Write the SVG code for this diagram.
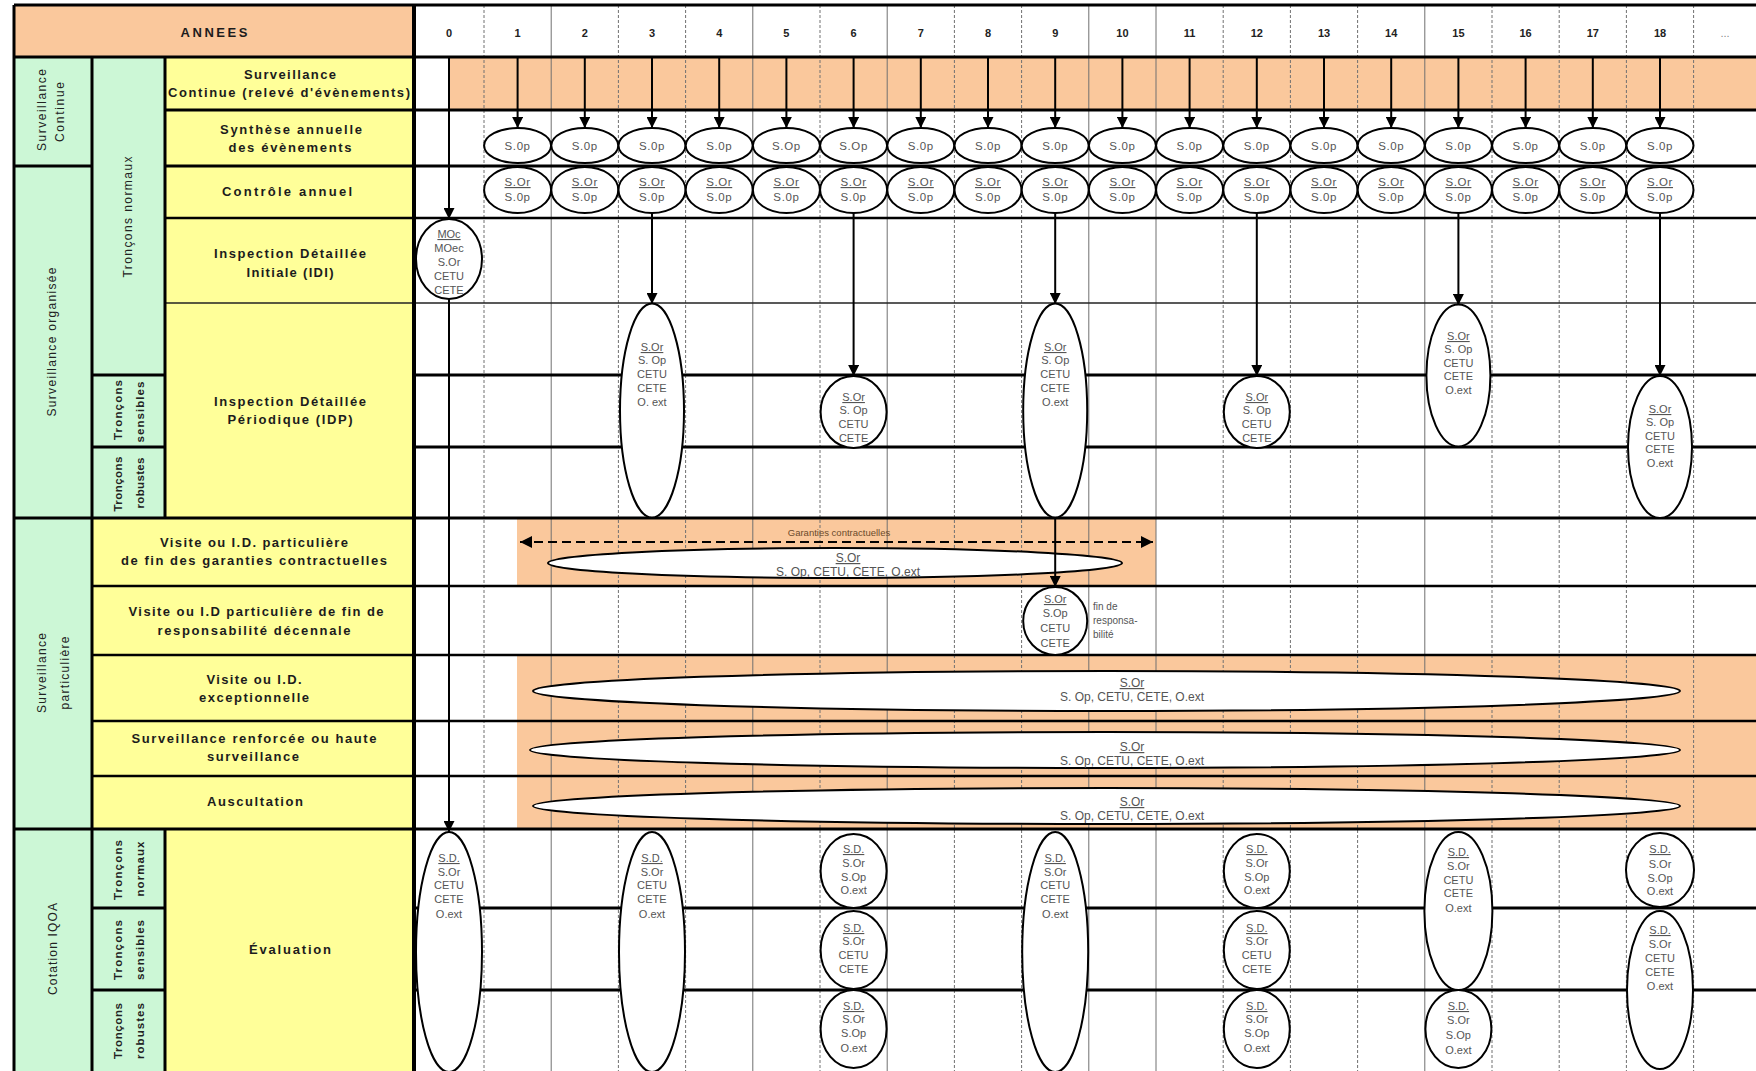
<svg xmlns="http://www.w3.org/2000/svg" width="1756" height="1071" viewBox="0 0 1756 1071">
<defs>
<style>
text{font-family:"Liberation Sans",Arial,Helvetica,sans-serif}
.lb{font-weight:bold;font-size:13px;fill:#1c1c1c;text-anchor:middle}
.rt{font-size:12px;fill:#222;text-anchor:middle}
.rb{font-size:11.5px;font-weight:bold;fill:#222;text-anchor:middle}
.yr{font-size:11px;font-weight:bold;fill:#222;text-anchor:middle}
.t{font-size:11px;fill:#555;text-anchor:middle}
.ts{font-size:11.5px;fill:#555;text-anchor:middle;letter-spacing:0.6px}
.tl{font-size:12px;fill:#555;text-anchor:middle}
.tn{font-size:10px;fill:#555}
.u{text-decoration:underline}
.el{fill:#fff;stroke:#000;stroke-width:2}
.or{fill:#FAC89C}
.gr{fill:#CCF7D6}
.ye{fill:#FFFF99}
.s3{stroke:#000;stroke-width:3}
.s2{stroke:#000;stroke-width:2.5}
.s1{stroke:#222;stroke-width:1.6}
.gs{stroke:#707070;stroke-width:1}
.gd{stroke:#707070;stroke-width:1;stroke-dasharray:3 2}
.ar{stroke:#000;stroke-width:2;fill:none;marker-end:url(#ah)}
</style>
<marker id="ah" markerUnits="userSpaceOnUse" markerWidth="11" markerHeight="11" refX="11" refY="5.5" orient="auto"><path d="M0,0 L11,5.5 L0,11 z" fill="#000"/></marker>
<marker id="ah2" markerUnits="userSpaceOnUse" markerWidth="12" markerHeight="12" refX="12" refY="6" orient="auto-start-reverse"><path d="M0,0 L12,6 L0,12 z" fill="#000"/></marker>
<clipPath id="cIDI"><ellipse cx="449" cy="259" rx="32" ry="39"/></clipPath>
<clipPath id="c6"><ellipse cx="853.6" cy="412" rx="32" ry="35"/></clipPath>
<clipPath id="c12"><ellipse cx="1256.8" cy="412" rx="32" ry="35"/></clipPath>
<clipPath id="cG"><ellipse cx="835" cy="563" rx="286" ry="14"/></clipPath>
</defs>
<rect x="0" y="0" width="1756" height="1071" fill="#fff"/>

<g id="label-area">
<rect class="or" x="14" y="5" width="400" height="52"/>
<rect class="gr" x="14" y="57" width="78" height="1014"/>
<rect class="gr" x="92" y="57" width="73" height="461"/>
<rect class="gr" x="92" y="829" width="73" height="242"/>
<rect class="ye" x="165" y="57" width="249" height="461"/>
<rect class="ye" x="92" y="518" width="322" height="311"/>
<rect class="ye" x="165" y="829" width="249" height="242"/>
</g>

<g id="orange-bands">
<rect class="or" x="449" y="57" width="1307" height="53"/>
<rect class="or" x="517" y="518" width="639" height="68"/>
<rect class="or" x="517" y="655" width="1239" height="174"/>
</g>

<g id="grid">
<line class="gd" x1="484" y1="5" x2="484" y2="1071"/>
<line class="gs" x1="551.2" y1="5" x2="551.2" y2="1071"/>
<line class="gd" x1="618.4" y1="5" x2="618.4" y2="1071"/>
<line class="gd" x1="685.6" y1="5" x2="685.6" y2="1071"/>
<line class="gs" x1="752.8" y1="5" x2="752.8" y2="1071"/>
<line class="gd" x1="820" y1="5" x2="820" y2="1071"/>
<line class="gs" x1="887.2" y1="5" x2="887.2" y2="1071"/>
<line class="gd" x1="954.4" y1="5" x2="954.4" y2="1071"/>
<line class="gd" x1="1021.6" y1="5" x2="1021.6" y2="1071"/>
<line class="gs" x1="1088.8" y1="5" x2="1088.8" y2="1071"/>
<line class="gs" x1="1156" y1="5" x2="1156" y2="1071"/>
<line class="gd" x1="1223.2" y1="5" x2="1223.2" y2="1071"/>
<line class="gd" x1="1290.4" y1="5" x2="1290.4" y2="1071"/>
<line class="gd" x1="1357.6" y1="5" x2="1357.6" y2="1071"/>
<line class="gs" x1="1424.8" y1="5" x2="1424.8" y2="1071"/>
<line class="gd" x1="1492" y1="5" x2="1492" y2="1071"/>
<line class="gd" x1="1559.2" y1="5" x2="1559.2" y2="1071"/>
<line class="gd" x1="1626.4" y1="5" x2="1626.4" y2="1071"/>
<line class="gd" x1="1693.6" y1="5" x2="1693.6" y2="1071"/>
</g>

<g id="rules">
<line class="s3" x1="14" y1="5" x2="1756" y2="5"/>
<line class="s3" x1="14" y1="57" x2="1756" y2="57"/>
<line class="s3" x1="165" y1="110" x2="1756" y2="110"/>
<line class="s3" x1="14" y1="166" x2="92" y2="166"/>
<line class="s3" x1="165" y1="166" x2="1756" y2="166"/>
<line class="s2" x1="165" y1="218" x2="1756" y2="218"/>
<line class="s1" x1="165" y1="303" x2="1756" y2="303"/>
<line class="s3" x1="92" y1="375" x2="165" y2="375"/>
<line class="s3" x1="414" y1="375" x2="1756" y2="375"/>
<line class="s3" x1="92" y1="447" x2="165" y2="447"/>
<line class="s3" x1="414" y1="447" x2="1756" y2="447"/>
<line class="s3" x1="14" y1="518" x2="1756" y2="518"/>
<line class="s2" x1="92" y1="586" x2="1756" y2="586"/>
<line class="s2" x1="92" y1="655" x2="1756" y2="655"/>
<line class="s2" x1="92" y1="721" x2="1756" y2="721"/>
<line class="s2" x1="92" y1="776" x2="1756" y2="776"/>
<line class="s3" x1="14" y1="829" x2="1756" y2="829"/>
<line class="s3" x1="92" y1="908" x2="165" y2="908"/>
<line class="s3" x1="414" y1="908" x2="1756" y2="908"/>
<line class="s3" x1="92" y1="990" x2="165" y2="990"/>
<line class="s3" x1="414" y1="990" x2="1756" y2="990"/>
<line class="s3" x1="14" y1="5" x2="14" y2="1071"/>
<line class="s3" x1="92" y1="57" x2="92" y2="1071"/>
<line class="s3" x1="165" y1="57" x2="165" y2="518"/>
<line class="s3" x1="165" y1="829" x2="165" y2="1071"/>
<line stroke="#000" stroke-width="4" x1="414" y1="5" x2="414" y2="1071"/>
</g>

<g id="labels">
<text class="lb" x="214" y="37" textLength="67" lengthAdjust="spacing">ANNEES</text>
<text class="lb" x="290" y="79" textLength="92" lengthAdjust="spacing">Surveillance</text>
<text class="lb" x="289" y="97" textLength="242" lengthAdjust="spacing">Continue (relevé d'évènements)</text>
<text class="lb" x="291" y="134" textLength="142" lengthAdjust="spacing">Synthèse annuelle</text>
<text class="lb" x="290" y="152" textLength="123" lengthAdjust="spacing">des évènements</text>
<text class="lb" x="287" y="196" textLength="130" lengthAdjust="spacing">Contrôle annuel</text>
<text class="lb" x="290" y="258" textLength="152" lengthAdjust="spacing">Inspection Détaillée</text>
<text class="lb" x="290" y="277" textLength="87" lengthAdjust="spacing">Initiale (IDI)</text>
<text class="lb" x="290" y="406" textLength="152" lengthAdjust="spacing">Inspection Détaillée</text>
<text class="lb" x="290" y="424" textLength="125" lengthAdjust="spacing">Périodique (IDP)</text>
<text class="lb" x="254" y="547" textLength="188" lengthAdjust="spacing">Visite ou I.D. particulière</text>
<text class="lb" x="254" y="565" textLength="266" lengthAdjust="spacing">de fin des garanties contractuelles</text>
<text class="lb" x="256" y="616" textLength="255" lengthAdjust="spacing">Visite ou I.D particulière de fin de</text>
<text class="lb" x="254" y="635" textLength="193" lengthAdjust="spacing">responsabilité décennale</text>
<text class="lb" x="254" y="684" textLength="95" lengthAdjust="spacing">Visite ou I.D.</text>
<text class="lb" x="254" y="702" textLength="110" lengthAdjust="spacing">exceptionnelle</text>
<text class="lb" x="254" y="743" textLength="245" lengthAdjust="spacing">Surveillance renforcée ou haute</text>
<text class="lb" x="253" y="761" textLength="92" lengthAdjust="spacing">surveillance</text>
<text class="lb" x="255" y="806" textLength="96" lengthAdjust="spacing">Auscultation</text>
<text class="lb" x="290" y="954" textLength="82" lengthAdjust="spacing">Évaluation</text>
<text class="rt" transform="translate(46,110) rotate(-90)" textLength="82" lengthAdjust="spacing">Surveillance</text>
<text class="rt" transform="translate(64,112) rotate(-90)" textLength="60" lengthAdjust="spacing">Continue</text>
<text class="rt" transform="translate(56,342) rotate(-90)" textLength="149" lengthAdjust="spacing">Surveillance organisée</text>
<text class="rt" transform="translate(46,673) rotate(-90)" textLength="80" lengthAdjust="spacing">Surveillance</text>
<text class="rt" transform="translate(69,673) rotate(-90)" textLength="73" lengthAdjust="spacing">particulière</text>
<text class="rt" transform="translate(57,949) rotate(-90)" textLength="92" lengthAdjust="spacing">Cotation IQOA</text>
<text class="rt" transform="translate(132,217) rotate(-90)" textLength="121" lengthAdjust="spacing">Tronçons normaux</text>
<text class="rb" transform="translate(122,410) rotate(-90)" textLength="60" lengthAdjust="spacing">Tronçons</text>
<text class="rb" transform="translate(144,412) rotate(-90)" textLength="61" lengthAdjust="spacing">sensibles</text>
<text class="rb" transform="translate(122,484) rotate(-90)" textLength="55" lengthAdjust="spacing">Tronçons</text>
<text class="rb" transform="translate(144,483) rotate(-90)" textLength="51" lengthAdjust="spacing">robustes</text>
<text class="rb" transform="translate(122,870) rotate(-90)" textLength="60" lengthAdjust="spacing">Tronçons</text>
<text class="rb" transform="translate(144,869) rotate(-90)" textLength="55" lengthAdjust="spacing">normaux</text>
<text class="rb" transform="translate(122,950) rotate(-90)" textLength="60" lengthAdjust="spacing">Tronçons</text>
<text class="rb" transform="translate(144,950) rotate(-90)" textLength="60" lengthAdjust="spacing">sensibles</text>
<text class="rb" transform="translate(122,1031) rotate(-90)" textLength="56" lengthAdjust="spacing">Tronçons</text>
<text class="rb" transform="translate(144,1031) rotate(-90)" textLength="56" lengthAdjust="spacing">robustes</text>
</g>

<g id="years">
<text class="yr" x="449" y="37">0</text>
<text class="yr" x="517.6" y="37">1</text>
<text class="yr" x="584.8" y="37">2</text>
<text class="yr" x="652" y="37">3</text>
<text class="yr" x="719.2" y="37">4</text>
<text class="yr" x="786.4" y="37">5</text>
<text class="yr" x="853.6" y="37">6</text>
<text class="yr" x="920.8" y="37">7</text>
<text class="yr" x="988" y="37">8</text>
<text class="yr" x="1055.2" y="37">9</text>
<text class="yr" x="1122.4" y="37">10</text>
<text class="yr" x="1189.6" y="37">11</text>
<text class="yr" x="1256.8" y="37">12</text>
<text class="yr" x="1324" y="37">13</text>
<text class="yr" x="1391.2" y="37">14</text>
<text class="yr" x="1458.4" y="37">15</text>
<text class="yr" x="1525.6" y="37">16</text>
<text class="yr" x="1592.8" y="37">17</text>
<text class="yr" x="1660" y="37">18</text>
<text class="yr" x="1725" y="37" style="fill:#888;font-weight:normal">...</text>
</g>

<g id="synthese">
<g id="syn-1"><ellipse class="el" cx="517.6" cy="145.5" rx="33.5" ry="17.5"/><text class="ts" x="517.6" y="149.5">S.0p</text></g>
<g id="syn-2"><ellipse class="el" cx="584.8" cy="145.5" rx="33.5" ry="17.5"/><text class="ts" x="584.8" y="149.5">S.0p</text></g>
<g id="syn-3"><ellipse class="el" cx="652" cy="145.5" rx="33.5" ry="17.5"/><text class="ts" x="652" y="149.5">S.0p</text></g>
<g id="syn-4"><ellipse class="el" cx="719.2" cy="145.5" rx="33.5" ry="17.5"/><text class="ts" x="719.2" y="149.5">S.0p</text></g>
<g id="syn-5"><ellipse class="el" cx="786.4" cy="145.5" rx="33.5" ry="17.5"/><text class="ts" x="786.4" y="149.5">S.Op</text></g>
<g id="syn-6"><ellipse class="el" cx="853.6" cy="145.5" rx="33.5" ry="17.5"/><text class="ts" x="853.6" y="149.5">S.Op</text></g>
<g id="syn-7"><ellipse class="el" cx="920.8" cy="145.5" rx="33.5" ry="17.5"/><text class="ts" x="920.8" y="149.5">S.0p</text></g>
<g id="syn-8"><ellipse class="el" cx="988" cy="145.5" rx="33.5" ry="17.5"/><text class="ts" x="988" y="149.5">S.0p</text></g>
<g id="syn-9"><ellipse class="el" cx="1055.2" cy="145.5" rx="33.5" ry="17.5"/><text class="ts" x="1055.2" y="149.5">S.0p</text></g>
<g id="syn-10"><ellipse class="el" cx="1122.4" cy="145.5" rx="33.5" ry="17.5"/><text class="ts" x="1122.4" y="149.5">S.0p</text></g>
<g id="syn-11"><ellipse class="el" cx="1189.6" cy="145.5" rx="33.5" ry="17.5"/><text class="ts" x="1189.6" y="149.5">S.0p</text></g>
<g id="syn-12"><ellipse class="el" cx="1256.8" cy="145.5" rx="33.5" ry="17.5"/><text class="ts" x="1256.8" y="149.5">S.0p</text></g>
<g id="syn-13"><ellipse class="el" cx="1324" cy="145.5" rx="33.5" ry="17.5"/><text class="ts" x="1324" y="149.5">S.0p</text></g>
<g id="syn-14"><ellipse class="el" cx="1391.2" cy="145.5" rx="33.5" ry="17.5"/><text class="ts" x="1391.2" y="149.5">S.0p</text></g>
<g id="syn-15"><ellipse class="el" cx="1458.4" cy="145.5" rx="33.5" ry="17.5"/><text class="ts" x="1458.4" y="149.5">S.0p</text></g>
<g id="syn-16"><ellipse class="el" cx="1525.6" cy="145.5" rx="33.5" ry="17.5"/><text class="ts" x="1525.6" y="149.5">S.0p</text></g>
<g id="syn-17"><ellipse class="el" cx="1592.8" cy="145.5" rx="33.5" ry="17.5"/><text class="ts" x="1592.8" y="149.5">S.0p</text></g>
<g id="syn-18"><ellipse class="el" cx="1660" cy="145.5" rx="33.5" ry="17.5"/><text class="ts" x="1660" y="149.5">S.0p</text></g>
</g>

<g id="controle">
<g id="ctl-1"><ellipse class="el" cx="517.6" cy="190" rx="33.5" ry="23"/><text class="ts u" x="517.6" y="186">S.Or</text><text class="ts" x="517.6" y="201">S.0p</text></g>
<g id="ctl-2"><ellipse class="el" cx="584.8" cy="190" rx="33.5" ry="23"/><text class="ts u" x="584.8" y="186">S.Or</text><text class="ts" x="584.8" y="201">S.0p</text></g>
<g id="ctl-3"><ellipse class="el" cx="652" cy="190" rx="33.5" ry="23"/><text class="ts u" x="652" y="186">S.Or</text><text class="ts" x="652" y="201">S.0p</text></g>
<g id="ctl-4"><ellipse class="el" cx="719.2" cy="190" rx="33.5" ry="23"/><text class="ts u" x="719.2" y="186">S.Or</text><text class="ts" x="719.2" y="201">S.0p</text></g>
<g id="ctl-5"><ellipse class="el" cx="786.4" cy="190" rx="33.5" ry="23"/><text class="ts u" x="786.4" y="186">S.Or</text><text class="ts" x="786.4" y="201">S.0p</text></g>
<g id="ctl-6"><ellipse class="el" cx="853.6" cy="190" rx="33.5" ry="23"/><text class="ts u" x="853.6" y="186">S.Or</text><text class="ts" x="853.6" y="201">S.0p</text></g>
<g id="ctl-7"><ellipse class="el" cx="920.8" cy="190" rx="33.5" ry="23"/><text class="ts u" x="920.8" y="186">S.Or</text><text class="ts" x="920.8" y="201">S.0p</text></g>
<g id="ctl-8"><ellipse class="el" cx="988" cy="190" rx="33.5" ry="23"/><text class="ts u" x="988" y="186">S.Or</text><text class="ts" x="988" y="201">S.0p</text></g>
<g id="ctl-9"><ellipse class="el" cx="1055.2" cy="190" rx="33.5" ry="23"/><text class="ts u" x="1055.2" y="186">S.Or</text><text class="ts" x="1055.2" y="201">S.0p</text></g>
<g id="ctl-10"><ellipse class="el" cx="1122.4" cy="190" rx="33.5" ry="23"/><text class="ts u" x="1122.4" y="186">S.Or</text><text class="ts" x="1122.4" y="201">S.0p</text></g>
<g id="ctl-11"><ellipse class="el" cx="1189.6" cy="190" rx="33.5" ry="23"/><text class="ts u" x="1189.6" y="186">S.Or</text><text class="ts" x="1189.6" y="201">S.0p</text></g>
<g id="ctl-12"><ellipse class="el" cx="1256.8" cy="190" rx="33.5" ry="23"/><text class="ts u" x="1256.8" y="186">S.Or</text><text class="ts" x="1256.8" y="201">S.0p</text></g>
<g id="ctl-13"><ellipse class="el" cx="1324" cy="190" rx="33.5" ry="23"/><text class="ts u" x="1324" y="186">S.Or</text><text class="ts" x="1324" y="201">S.0p</text></g>
<g id="ctl-14"><ellipse class="el" cx="1391.2" cy="190" rx="33.5" ry="23"/><text class="ts u" x="1391.2" y="186">S.Or</text><text class="ts" x="1391.2" y="201">S.0p</text></g>
<g id="ctl-15"><ellipse class="el" cx="1458.4" cy="190" rx="33.5" ry="23"/><text class="ts u" x="1458.4" y="186">S.Or</text><text class="ts" x="1458.4" y="201">S.0p</text></g>
<g id="ctl-16"><ellipse class="el" cx="1525.6" cy="190" rx="33.5" ry="23"/><text class="ts u" x="1525.6" y="186">S.Or</text><text class="ts" x="1525.6" y="201">S.0p</text></g>
<g id="ctl-17"><ellipse class="el" cx="1592.8" cy="190" rx="33.5" ry="23"/><text class="ts u" x="1592.8" y="186">S.Or</text><text class="ts" x="1592.8" y="201">S.0p</text></g>
<g id="ctl-18"><ellipse class="el" cx="1660" cy="190" rx="33.5" ry="23"/><text class="ts u" x="1660" y="186">S.Or</text><text class="ts" x="1660" y="201">S.0p</text></g>
</g>

<g id="idi-0"><ellipse class="el" cx="449" cy="259" rx="33" ry="40"/>
<g clip-path="url(#cIDI)"><text class="t u" x="449" y="238">MOc</text><text class="t" x="449" y="252">MOec</text><text class="t" x="449" y="266">S.Or</text><text class="t" x="449" y="280">CETU</text><text class="t" x="449" y="294">CETE</text></g></g>

<g id="idp-3"><ellipse class="el" cx="652" cy="410.5" rx="32" ry="107"/><text class="t u" x="652" y="351">S.Or</text><text class="t" x="652" y="364">S. Op</text><text class="t" x="652" y="378">CETU</text><text class="t" x="652" y="392">CETE</text><text class="t" x="652" y="406">O. ext</text></g>
<g id="idp-6"><ellipse class="el" cx="853.6" cy="412" rx="33" ry="36"/><g clip-path="url(#c6)"><text class="t u" x="853.6" y="401">S.Or</text><text class="t" x="853.6" y="414">S. Op</text><text class="t" x="853.6" y="428">CETU</text><text class="t" x="853.6" y="442">CETE</text></g></g>
<g id="idp-9"><ellipse class="el" cx="1055.2" cy="410.5" rx="32" ry="107"/><text class="t u" x="1055.2" y="351">S.Or</text><text class="t" x="1055.2" y="364">S. Op</text><text class="t" x="1055.2" y="378">CETU</text><text class="t" x="1055.2" y="392">CETE</text><text class="t" x="1055.2" y="406">O.ext</text></g>
<g id="idp-12"><ellipse class="el" cx="1256.8" cy="412" rx="33" ry="36"/><g clip-path="url(#c12)"><text class="t u" x="1256.8" y="401">S.Or</text><text class="t" x="1256.8" y="414">S. Op</text><text class="t" x="1256.8" y="428">CETU</text><text class="t" x="1256.8" y="442">CETE</text></g></g>
<g id="idp-15"><ellipse class="el" cx="1458.4" cy="375.5" rx="32" ry="71"/><text class="t u" x="1458.4" y="340">S.Or</text><text class="t" x="1458.4" y="353">S. Op</text><text class="t" x="1458.4" y="367">CETU</text><text class="t" x="1458.4" y="380">CETE</text><text class="t" x="1458.4" y="394">O.ext</text></g>
<g id="idp-18"><ellipse class="el" cx="1660" cy="447" rx="32" ry="71"/><text class="t u" x="1660" y="413">S.Or</text><text class="t" x="1660" y="426">S. Op</text><text class="t" x="1660" y="440">CETU</text><text class="t" x="1660" y="453">CETE</text><text class="t" x="1660" y="467">O.ext</text></g>

<g id="garanties">
<text x="839" y="536" style="font-size:9.5px;fill:#6b4a2b;text-anchor:middle">Garanties contractuelles</text>
<line x1="520" y1="542" x2="1153" y2="542" stroke="#000" stroke-width="2" stroke-dasharray="9 5" marker-start="url(#ah2)" marker-end="url(#ah2)"/>
<ellipse class="el" cx="835" cy="563" rx="287" ry="15"/>
<g clip-path="url(#cG)"><text class="tl u" x="848" y="562">S.Or</text><text class="tl" x="848" y="576">S. Op, CETU, CETE, O.ext</text></g>
</g>

<g id="responsabilite"><ellipse class="el" cx="1055.2" cy="621" rx="32" ry="34"/><text class="t u" x="1055.2" y="603">S.Or</text><text class="t" x="1055.2" y="617">S.Op</text><text class="t" x="1055.2" y="632">CETU</text><text class="t" x="1055.2" y="647">CETE</text>
<text class="tn" x="1093" y="610">fin de</text><text class="tn" x="1093" y="624">responsa-</text><text class="tn" x="1093" y="638">bilité</text></g>

<g id="exceptionnelle"><ellipse class="el" cx="1106.5" cy="691" rx="573.5" ry="20"/><text class="tl u" x="1132" y="687">S.Or</text><text class="tl" x="1132" y="701">S. Op, CETU, CETE, O.ext</text></g>
<g id="renforcee"><ellipse class="el" cx="1105" cy="750" rx="575" ry="18"/><text class="tl u" x="1132" y="751">S.Or</text><text class="tl" x="1132" y="765">S. Op, CETU, CETE, O.ext</text></g>
<g id="auscultation"><ellipse class="el" cx="1106.5" cy="806" rx="573.5" ry="18"/><text class="tl u" x="1132" y="806">S.Or</text><text class="tl" x="1132" y="820">S. Op, CETU, CETE, O.ext</text></g>

<g id="eval-0"><ellipse class="el" cx="449" cy="952" rx="33" ry="120"/><text class="t u" x="449" y="862">S.D.</text><text class="t" x="449" y="876">S.Or</text><text class="t" x="449" y="889">CETU</text><text class="t" x="449" y="903">CETE</text><text class="t" x="449" y="918">O.ext</text></g>
<g id="eval-3"><ellipse class="el" cx="652" cy="952" rx="33" ry="120"/><text class="t u" x="652" y="862">S.D.</text><text class="t" x="652" y="876">S.Or</text><text class="t" x="652" y="889">CETU</text><text class="t" x="652" y="903">CETE</text><text class="t" x="652" y="918">O.ext</text></g>
<g id="eval-9"><ellipse class="el" cx="1055.2" cy="952" rx="33" ry="120"/><text class="t u" x="1055.2" y="862">S.D.</text><text class="t" x="1055.2" y="876">S.Or</text><text class="t" x="1055.2" y="889">CETU</text><text class="t" x="1055.2" y="903">CETE</text><text class="t" x="1055.2" y="918">O.ext</text></g>

<g id="eval-6n"><ellipse class="el" cx="853.6" cy="871" rx="33" ry="37"/><text class="t u" x="853.6" y="853">S.D.</text><text class="t" x="853.6" y="867">S.Or</text><text class="t" x="853.6" y="881">S.Op</text><text class="t" x="853.6" y="894">O.ext</text></g>
<g id="eval-6s"><ellipse class="el" cx="853.6" cy="950" rx="33" ry="39"/><text class="t u" x="853.6" y="932">S.D.</text><text class="t" x="853.6" y="945">S.Or</text><text class="t" x="853.6" y="959">CETU</text><text class="t" x="853.6" y="973">CETE</text></g>
<g id="eval-6r"><ellipse class="el" cx="853.6" cy="1029" rx="33" ry="39"/><text class="t u" x="853.6" y="1010">S.D.</text><text class="t" x="853.6" y="1023">S.Or</text><text class="t" x="853.6" y="1037">S.Op</text><text class="t" x="853.6" y="1052">O.ext</text></g>

<g id="eval-12n"><ellipse class="el" cx="1256.8" cy="871" rx="33" ry="37"/><text class="t u" x="1256.8" y="853">S.D.</text><text class="t" x="1256.8" y="867">S.Or</text><text class="t" x="1256.8" y="881">S.Op</text><text class="t" x="1256.8" y="894">O.ext</text></g>
<g id="eval-12s"><ellipse class="el" cx="1256.8" cy="950" rx="33" ry="39"/><text class="t u" x="1256.8" y="932">S.D.</text><text class="t" x="1256.8" y="945">S.Or</text><text class="t" x="1256.8" y="959">CETU</text><text class="t" x="1256.8" y="973">CETE</text></g>
<g id="eval-12r"><ellipse class="el" cx="1256.8" cy="1029" rx="33" ry="39"/><text class="t u" x="1256.8" y="1010">S.D.</text><text class="t" x="1256.8" y="1023">S.Or</text><text class="t" x="1256.8" y="1037">S.Op</text><text class="t" x="1256.8" y="1052">O.ext</text></g>

<g id="eval-15ns"><ellipse class="el" cx="1458.4" cy="911" rx="34" ry="79"/><text class="t u" x="1458.4" y="856">S.D.</text><text class="t" x="1458.4" y="870">S.Or</text><text class="t" x="1458.4" y="884">CETU</text><text class="t" x="1458.4" y="897">CETE</text><text class="t" x="1458.4" y="912">O.ext</text></g>
<g id="eval-15r"><ellipse class="el" cx="1458.4" cy="1029" rx="33" ry="39"/><text class="t u" x="1458.4" y="1010">S.D.</text><text class="t" x="1458.4" y="1024">S.Or</text><text class="t" x="1458.4" y="1039">S.Op</text><text class="t" x="1458.4" y="1054">O.ext</text></g>

<g id="eval-18n"><ellipse class="el" cx="1660" cy="870" rx="34" ry="37"/><text class="t u" x="1660" y="853">S.D.</text><text class="t" x="1660" y="868">S.Or</text><text class="t" x="1660" y="882">S.Op</text><text class="t" x="1660" y="895">O.ext</text></g>
<g id="eval-18sr"><ellipse class="el" cx="1660" cy="990" rx="33" ry="79"/><text class="t u" x="1660" y="934">S.D.</text><text class="t" x="1660" y="948">S.Or</text><text class="t" x="1660" y="962">CETU</text><text class="t" x="1660" y="976">CETE</text><text class="t" x="1660" y="990">O.ext</text></g>

<g id="connectors">
<path class="ar" d="M517.6,58V128"/>
<path class="ar" d="M584.8,58V128"/>
<path class="ar" d="M652,58V128"/>
<path class="ar" d="M719.2,58V128"/>
<path class="ar" d="M786.4,58V128"/>
<path class="ar" d="M853.6,58V128"/>
<path class="ar" d="M920.8,58V128"/>
<path class="ar" d="M988,58V128"/>
<path class="ar" d="M1055.2,58V128"/>
<path class="ar" d="M1122.4,58V128"/>
<path class="ar" d="M1189.6,58V128"/>
<path class="ar" d="M1256.8,58V128"/>
<path class="ar" d="M1324,58V128"/>
<path class="ar" d="M1391.2,58V128"/>
<path class="ar" d="M1458.4,58V128"/>
<path class="ar" d="M1525.6,58V128"/>
<path class="ar" d="M1592.8,58V128"/>
<path class="ar" d="M1660,58V128"/>
<path class="ar" d="M449,58V219"/>
<path class="ar" d="M449,299V832"/>
<path class="ar" d="M652,213V304"/>
<path class="ar" d="M853.6,213V376"/>
<path class="ar" d="M1055.2,213V304"/>
<path class="ar" d="M1055.2,517V587"/>
<path class="ar" d="M1256.8,213V376"/>
<path class="ar" d="M1458.4,213V305"/>
<path class="ar" d="M1660,213V376"/>
</g>
</svg>
